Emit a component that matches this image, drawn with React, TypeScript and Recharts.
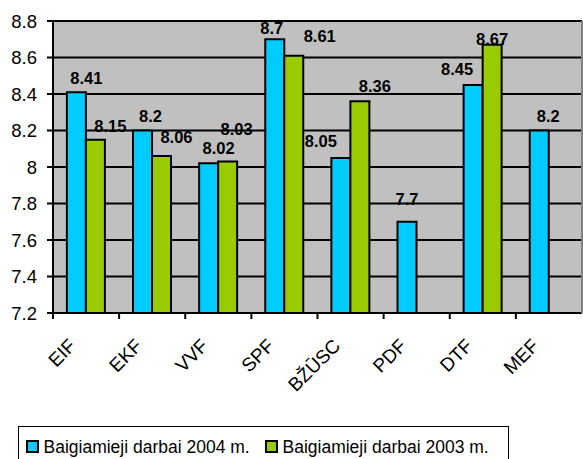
import React from 'react';
import { BarChart, Bar, XAxis, YAxis, CartesianGrid, LabelList, Legend } from 'recharts';

const categories = ['EIF', 'EKF', 'VVF', 'SPF', 'BŽŪSC', 'PDF', 'DTF', 'MEF'];
const values2004: (number | null)[] = [8.41, 8.2, 8.02, 8.7, 8.05, 7.7, 8.45, 8.2];
const values2003: (number | null)[] = [8.15, 8.06, 8.03, 8.61, 8.36, null, 8.67, null];
const yTicks = [7.2, 7.4, 7.6, 7.8, 8, 8.2, 8.4, 8.6, 8.8];
const seriesNames = ['Baigiamieji darbai 2004 m.', 'Baigiamieji darbai 2003 m.'];
const seriesColors = ['#00CCFF', '#99CC00'];

const data = categories.map((c, i) => ({ cat: c, v2004: values2004[i], v2003: values2003[i] }));

// label placement nudges (style only): [dx from bar centre, gap above bar top]
const NUDGE_2004 = [[10, 8], [8, 9], [10, 9], [-3, 5], [-20, 11], [0, 17], [-16, 10], [9, 9]];
const NUDGE_2003 = [[15, 8], [15, 13], [9, 27], [26, 14], [15, 9], [0, 0], [10, 3], [0, 0]];

const CHART_W = 583;
const CHART_H = 459;
const Y_W = 53;
const RIGHT_W = 1;
const PLOT_W = CHART_W - Y_W - RIGHT_W;
const HALF_BAND = PLOT_W / categories.length / 2;
const FONT = '"Liberation Sans", Arial, sans-serif';

const makeLabel = (nudges: number[][]) => (props: any) => {
  const { x, y, width, value, index } = props;
  if (value == null) return null;
  const n = nudges[index] || [0, 8];
  return (
    <text
      x={Number(x) + Number(width) / 2 + n[0]}
      y={Number(y) - n[1]}
      textAnchor="middle"
      style={{ fontFamily: FONT, fontWeight: 'bold', fontSize: 16.5 }}
      fill="#000"
    >
      {String(value)}
    </text>
  );
};

const XTick = (props: any) => {
  const { x, y, payload } = props;
  const px = x - 9;
  const py = y + 34;
  return (
    <g>
      <line x1={x - HALF_BAND} y1={y} x2={x - HALF_BAND} y2={y + 6} stroke="#000" strokeWidth={2} />
      <text
        x={px}
        y={py}
        textAnchor="end"
        transform={`rotate(-45 ${px} ${py})`}
        style={{ fontFamily: FONT, fontSize: 19 }}
        fill="#000"
      >
        {payload.value}
      </text>
    </g>
  );
};

const LegendBox = () => (
  <div
    style={{
      width: '100%',
      height: '100%',
      boxSizing: 'border-box',
      border: '1.5px solid #000',
      background: '#fff',
      display: 'flex',
      alignItems: 'flex-start',
      paddingTop: 9.5,
      paddingLeft: 6.5,
      fontFamily: FONT,
      fontSize: 17.5,
      lineHeight: '20px',
      color: '#000',
      whiteSpace: 'nowrap',
    }}
  >
    {seriesNames.map((name, i) => (
      <div
        key={name}
        style={{ display: 'flex', alignItems: 'flex-start', width: i === 0 ? 239 : undefined }}
      >
        <div
          style={{
            width: 13,
            height: 13,
            boxSizing: 'border-box',
            border: '2px solid #000',
            background: seriesColors[i],
            marginTop: 3,
            marginRight: 5,
          }}
        />
        <span>{name}</span>
      </div>
    ))}
  </div>
);

export default function App() {
  return (
    <div style={{ position: 'absolute', left: 0, top: 0, background: '#fff', fontFamily: FONT }}>
      <BarChart
        width={CHART_W}
        height={CHART_H}
        data={data}
        margin={{ top: 21, right: 0, bottom: 86, left: 0 }}
        barCategoryGap="21%"
        barGap={0}
        style={{ fontFamily: FONT }}
      >
        <CartesianGrid vertical={false} fill="#C0C0C0" fillOpacity={1} stroke="#000" strokeWidth={2} />
        <XAxis
          dataKey="cat"
          height={60}
          tickSize={0}
          tickMargin={0}
          tickLine={false}
          axisLine={{ stroke: '#000', strokeWidth: 2 }}
          tick={<XTick />}
          interval={0}
        />
        <XAxis
          xAxisId="top"
          dataKey="cat"
          orientation="top"
          height={0}
          tick={false}
          tickLine={false}
          axisLine={{ stroke: '#808080', strokeWidth: 2 }}
        />
        <YAxis
          width={Y_W}
          domain={[7.2, 8.8]}
          ticks={yTicks}
          interval={0}
          tickSize={6}
          tickMargin={10}
          tickLine={{ stroke: '#000', strokeWidth: 2 }}
          axisLine={{ stroke: '#000', strokeWidth: 2 }}
          tick={{ fill: '#000', fontSize: 18.5, style: { fontFamily: FONT } }}
        />
        <YAxis
          yAxisId="right"
          orientation="right"
          width={RIGHT_W}
          domain={[7.2, 8.8]}
          tick={false}
          tickLine={false}
          axisLine={{ stroke: '#808080', strokeWidth: 2 }}
        />
        <Legend
          layout="horizontal"
          verticalAlign="middle"
          align="center"
          wrapperStyle={{ left: 18, top: 426, width: 491, height: 40 }}
          content={<LegendBox />}
        />
        <Bar dataKey="v2004" name={seriesNames[0]} fill={seriesColors[0]} stroke="#000" strokeWidth={2} isAnimationActive={false}>
          <LabelList dataKey="v2004" content={makeLabel(NUDGE_2004)} />
        </Bar>
        <Bar dataKey="v2003" name={seriesNames[1]} fill={seriesColors[1]} stroke="#000" strokeWidth={2} isAnimationActive={false}>
          <LabelList dataKey="v2003" content={makeLabel(NUDGE_2003)} />
        </Bar>
      </BarChart>
    </div>
  );
}
